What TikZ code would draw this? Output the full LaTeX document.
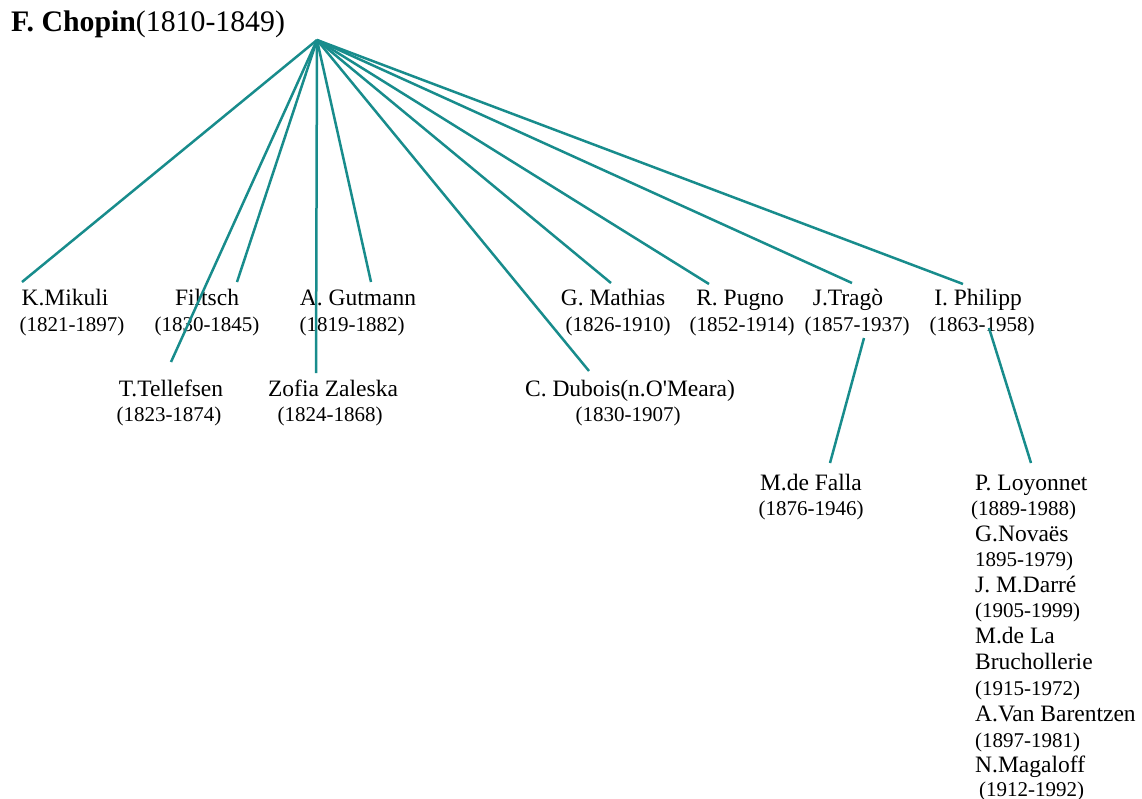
\documentclass[tikz,border=0pt]{standalone}
\usepackage{fontspec}
\setmainfont{Liberation Serif}
\newfontfamily\plainserif{Liberation Serif}[Mapping=]
\definecolor{branch}{RGB}{24,140,140}
\begin{document}
\begin{tikzpicture}[x=1pt,y=-1pt,
  edge/.style={draw=branch,line width=2.5pt},
  pname/.style={anchor=base,inner sep=0pt,font=\fontsize{23.5}{26}\selectfont},
  pdate/.style={anchor=base,inner sep=0pt,font=\fontsize{21}{24}\selectfont},
  lname/.style={anchor=base west,inner sep=0pt,font=\fontsize{23.5}{26}\selectfont},
  ldate/.style={anchor=base west,inner sep=0pt,font=\fontsize{21}{24}\selectfont}]
\useasboundingbox (0,0) rectangle (1142,798);

% master
\node[anchor=base west,inner sep=0pt,font=\fontsize{29.8}{32}\selectfont] (chopin) at (11,31)
  {\textbf{F. Chopin}(1810-1849)};
\coordinate (root) at (317,40);

% first row of pupils
\node[pname] (mikuli) at (65,305) {K.Mikuli};
\node[pdate] (mikuliD) at (72,331) {(1821-1897)};
\node[pname] (filtsch) at (207,305) {Filtsch};
\node[pdate] (filtschD) at (207,331) {(1830-1845)};
\node[pname] (gutmann) at (358,305) {A. Gutmann};
\node[pdate] (gutmannD) at (352,331) {(1819-1882)};
\node[pname] (mathias) at (613,305) {G. Mathias};
\node[pdate] (mathiasD) at (618,331) {(1826-1910)};
\node[pname] (pugno) at (740,305) {R. Pugno};
\node[pdate] (pugnoD) at (742,331) {(1852-1914)};
\node[pname] (trago) at (848,305) {J.Trag\`o};
\node[pdate] (tragoD) at (857,331) {(1857-1937)};
\node[pname] (philipp) at (978,305) {I. Philipp};
\node[pdate] (philippD) at (982,331) {(1863-1958)};

% second row of pupils
\node[pname] (tellefsen) at (171,396) {T.Tellefsen};
\node[pdate] (tellefsenD) at (169,421) {(1823-1874)};
\node[pname] (zaleska) at (333,396) {Zofia Zaleska};
\node[pdate] (zaleskaD) at (330,421) {(1824-1868)};
\node[pname] (dubois) at (630,396) {C. Dubois(n.O{\plainserif'}Meara)};
\node[pdate] (duboisD) at (628,421) {(1830-1907)};

% pupils of the pupils
\node[pname] (falla) at (811,490) {M.de Falla};
\node[pdate] (fallaD) at (811,515) {(1876-1946)};

\node[lname] (loyonnet) at (975,490) {P. Loyonnet};
\node[ldate] (loyonnetD) at (971,515.5) {(1889-1988)};
\node[lname] (novaes) at (975,541) {G.Nova\"es};
\node[ldate] (novaesD) at (975,566.5) {1895-1979)};
\node[lname] (darre) at (975,592) {J. M.Darr\'e};
\node[ldate] (darreD) at (975,617.5) {(1905-1999)};
\node[lname] (bruch1) at (975,643) {M.de La};
\node[lname] (bruch2) at (975,669) {Bruchollerie};
\node[ldate] (bruchD) at (975,695) {(1915-1972)};
\node[lname] (barentzen) at (975,721) {A.Van Barentzen};
\node[ldate] (barentzenD) at (975,747) {(1897-1981)};
\node[lname] (magaloff) at (975,772) {N.Magaloff};
\node[ldate] (magaloffD) at (979,796) {(1912-1992)};

% ends of the branches
\coordinate (mikuliT) at (22,282);
\coordinate (filtschT) at (237,282);
\coordinate (tellefsenT) at (171,362);
\coordinate (zaleskaT) at (316,373);
\coordinate (gutmannT) at (371,282);
\coordinate (duboisT) at (589,371);
\coordinate (mathiasT) at (611,283);
\coordinate (pugnoT) at (709,284);
\coordinate (tragoT) at (852,283);
\coordinate (philippT) at (963,284);
\coordinate (tragoB) at (864,338);
\coordinate (fallaT) at (830,463);
\coordinate (philippB) at (989,328);
\coordinate (loyonnetT) at (1031,463);

\foreach \p in {mikuliT,filtschT,tellefsenT,zaleskaT,gutmannT,duboisT,
                mathiasT,pugnoT,tragoT,philippT}
  \draw[edge] (root) -- (\p);
\draw[edge] (tragoB) -- (fallaT);
\draw[edge] (philippB) -- (loyonnetT);
\end{tikzpicture}
\end{document}
